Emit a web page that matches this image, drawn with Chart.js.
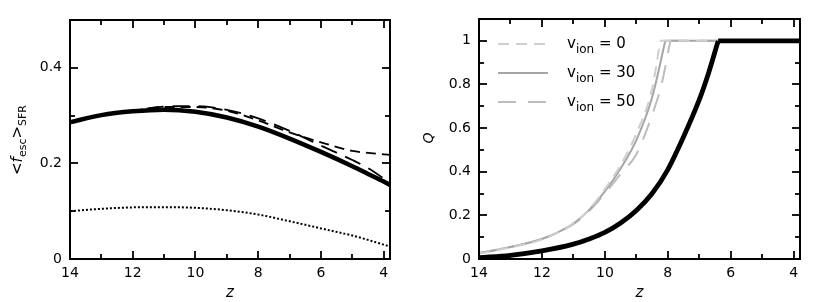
<!DOCTYPE html>
<html><head><meta charset="utf-8">
<script src="https://cdn.jsdelivr.net/npm/chart.js@4.4.0/dist/chart.umd.min.js"></script>
<style>
html,body{margin:0;padding:0;background:#fff;overflow:hidden}
#wrap{position:relative;width:817px;height:302px;background:#fff}
canvas{position:absolute;top:0}
</style></head><body>
<div id="wrap">
<canvas id="c1" width="409" height="302" style="left:0"></canvas>
<canvas id="c2" width="408" height="302" style="left:409px"></canvas>
</div>
<script>
// ---------- Left panel data: <f_esc>_SFR vs z ----------
const zLeft          = [14, 13, 12, 11, 10, 9, 8, 7, 6, 5, 4.5, 4, 3.8];
const fescSolid      = [0.286, 0.301, 0.309, 0.3125, 0.308, 0.296, 0.277, 0.252, 0.224, 0.194, 0.178, 0.162, 0.155];
const fescLongDash   = [0.286, 0.301, 0.310, 0.319, 0.320, 0.312, 0.294, 0.268, 0.237, 0.207, 0.190, 0.168, 0.158];
const fescShortDash  = [0.286, 0.301, 0.310, 0.318, 0.318, 0.310, 0.290, 0.265, 0.244, 0.226, 0.222, 0.219, 0.218];
const fescDotted     = [0.100, 0.105, 0.108, 0.1085, 0.107, 0.102, 0.093, 0.079, 0.064, 0.049, 0.040, 0.030, 0.026];

// ---------- Right panel data: Q vs z ----------
const zBlack = [14, 13, 12, 11, 10.5, 10, 9.5, 9, 8.5, 8, 7.5, 7, 6.7, 6.4, 3.8];
const qBlack = [0.006, 0.017, 0.037, 0.068, 0.092, 0.122, 0.165, 0.222, 0.30, 0.41, 0.56, 0.73, 0.855, 1.0, 1.0];
const zV0  = [14, 13, 12, 11, 10.5, 10, 9.5, 9, 8.5, 8.24, 3.8];
const qV0  = [0.025, 0.053, 0.090, 0.163, 0.228, 0.32, 0.43, 0.575, 0.78, 1.0, 1.0];
const zV30 = [14, 13, 12, 11.5, 11, 10.5, 10, 9.5, 9, 8.5, 8.08, 3.8];
const qV30 = [0.027, 0.055, 0.092, 0.122, 0.162, 0.225, 0.31, 0.415, 0.545, 0.74, 1.0, 1.0];
const zV50 = [14, 13, 12, 11, 10.5, 10, 9.5, 9, 8.5, 8.2, 7.92, 3.8];
const qV50 = [0.027, 0.055, 0.092, 0.160, 0.220, 0.300, 0.390, 0.48, 0.66, 0.80, 1.0, 1.0];
const legendLabels = ['0', '30', '50'];

// ---------- Ticks ----------
const xTicks = [14, 12, 10, 8, 6, 4];
const xMinorTicks = [13, 11, 9, 7, 5];
const leftYTicks = [0, 0.2, 0.4];
const leftYMinor = [0.1, 0.3];
const rightYTicks = [0, 0.2, 0.4, 0.6, 0.8, 1];
const rightYMinor = [0.1, 0.3, 0.5, 0.7, 0.9];

const FONT = "'DejaVu Sans', 'Liberation Sans', sans-serif";
Chart.defaults.font.family = FONT;
Chart.defaults.font.size = 14;
Chart.defaults.color = '#000';

function pts(xs, ys){ return xs.map((x,i)=>({x:x, y:ys[i]})); }
// split a Q curve at the point where it saturates (Q=1) so the corner stays sharp
function splitAtSaturation(xs, ys){
  const k = ys.findIndex(v=>v>=1);
  return [pts(xs.slice(0,k+1), ys.slice(0,k+1)), pts(xs.slice(k), ys.slice(k))];
}

function framePlugin(o){
  return {
    id:'frame',
    afterDraw(chart){
      const ctx = chart.ctx, a = chart.chartArea, xs = chart.scales.x, ys = chart.scales.y;
      ctx.save();
      ctx.strokeStyle = '#000';
      ctx.lineWidth = 2;
      ctx.strokeRect(a.left, a.top, a.right - a.left, a.bottom - a.top);
      ctx.lineWidth = 1.8;
      const seg = (x1,y1,x2,y2)=>{ ctx.beginPath(); ctx.moveTo(x1,y1); ctx.lineTo(x2,y2); ctx.stroke(); };
      const doX = (vals, L)=>vals.forEach(v=>{ const p = Math.round(xs.getPixelForValue(v)); seg(p,a.bottom,p,a.bottom-L); seg(p,a.top,p,a.top+L); });
      const doY = (vals, L)=>vals.forEach(v=>{ const p = Math.round(ys.getPixelForValue(v)); seg(a.left,p,a.left+L,p); seg(a.right,p,a.right-L,p); });
      doX(o.xMaj, 8); doX(o.xMin, 5);
      doY(o.yMaj, 8); doY(o.yMin, 5);
      ctx.fillStyle = '#000';
      ctx.font = 'italic 15px ' + FONT;
      ctx.textAlign = 'center';
      ctx.textBaseline = 'alphabetic';
      ctx.fillText('z', (a.left + a.right)/2, 297);
      if (o.yTitle) o.yTitle(ctx, a);
      if (o.legend) o.legend(ctx, a);
      ctx.restore();
    }
  };
}

function makeOptions(yMin, yMax, yTicks, padRight, padTop){
  return {
    responsive:false, animation:false,
    layout:{padding:{left:0, right:padRight, top:padTop, bottom:0}},
    plugins:{legend:{display:false}, tooltip:{enabled:false}},
    elements:{point:{radius:0}, line:{cubicInterpolationMode:'monotone', borderCapStyle:'butt'}},
    scales:{
      x:{type:'linear', reverse:true, min:3.8, max:14,
         grid:{display:false, drawTicks:false}, border:{display:false},
         afterBuildTicks(s){ s.ticks = xTicks.map(v=>({value:v})); },
         afterFit(s){ s.height = 43; },
         ticks:{padding:6, maxRotation:0, autoSkip:false, callback:(v)=>String(v), font:{size:14}}},
      y:{type:'linear', min:yMin, max:yMax,
         grid:{display:false, drawTicks:false}, border:{display:false},
         afterBuildTicks(s){ s.ticks = yTicks.map(v=>({value:v})); },
         afterFit(s){ s.width = 70; },
         ticks:{padding:8, autoSkip:false, callback:(v)=>String(v), font:{size:14}}}
    }
  };
}

// ---------- Left chart ----------
new Chart(document.getElementById('c1'), {
  type:'line',
  data:{datasets:[
    {data:pts(zLeft, fescSolid), borderColor:'#000', borderWidth:4.5},
    {data:pts(zLeft, fescLongDash), borderColor:'#000', borderWidth:1.8, borderDash:[17,9]},
    {data:pts(zLeft, fescShortDash), borderColor:'#000', borderWidth:1.8, borderDash:[10,6]},
    {data:pts(zLeft, fescDotted), borderColor:'#000', borderWidth:2, borderDash:[2,2]}
  ]},
  options:makeOptions(0, 0.5, leftYTicks, 19, 20),
  plugins:[framePlugin({
    xMaj:xTicks, xMin:xMinorTicks, yMaj:leftYTicks.concat([0.5]), yMin:leftYMinor,
    yTitle(ctx, a){
      ctx.save();
      ctx.translate(22, 140);
      ctx.rotate(-Math.PI/2);
      const parts = [
        {t:'<', f:'15px ', dy:0},
        {t:'f', f:'italic 15px ', dy:0},
        {t:'esc', f:'11px ', dy:4},
        {t:'>', f:'15px ', dy:0},
        {t:'SFR', f:'11px ', dy:4}
      ];
      let w = 0;
      parts.forEach(p=>{ ctx.font = p.f + FONT; p.w = ctx.measureText(p.t).width; w += p.w; });
      let x = -w/2;
      ctx.textAlign = 'left'; ctx.textBaseline = 'alphabetic'; ctx.fillStyle = '#000';
      parts.forEach(p=>{ ctx.font = p.f + FONT; ctx.fillText(p.t, x, p.dy); x += p.w; });
      ctx.restore();
    }
  })]
});

// ---------- Right chart ----------
const legendStyles = [
  {color:'#cfcfcf', dash:[11,7]},
  {color:'#a6a6a6', dash:[]},
  {color:'#bdbdbd', dash:[18,12]}
];
const blackParts = splitAtSaturation(zBlack, qBlack);
const v0Parts  = splitAtSaturation(zV0, qV0);
const v30Parts = splitAtSaturation(zV30, qV30);
const v50Parts = splitAtSaturation(zV50, qV50);
const rightSets = [];
blackParts.forEach(d=>rightSets.push({data:d, borderColor:'#000', borderWidth:4.8}));
[v0Parts, v30Parts, v50Parts].forEach((parts, i)=>parts.forEach(d=>rightSets.push({
  data:d, borderColor:legendStyles[i].color, borderWidth:2, borderDash:legendStyles[i].dash})));

new Chart(document.getElementById('c2'), {
  type:'line',
  data:{datasets:rightSets},
  options:makeOptions(0, 1.1, rightYTicks, 17, 19),
  plugins:[framePlugin({
    xMaj:xTicks, xMin:xMinorTicks, yMaj:rightYTicks, yMin:rightYMinor,
    yTitle(ctx, a){
      ctx.save();
      ctx.translate(24, 138);
      ctx.rotate(-Math.PI/2);
      ctx.font = 'italic 14px ' + FONT;
      ctx.textAlign = 'center'; ctx.textBaseline = 'alphabetic'; ctx.fillStyle = '#000';
      ctx.fillText('Q', 0, 0);
      ctx.restore();
    },
    legend(ctx, a){
      const rows = [44, 73, 102];
      legendLabels.forEach((lab, i)=>{
        const y = rows[i], st = legendStyles[i];
        ctx.save();
        ctx.strokeStyle = st.color; ctx.lineWidth = 2; ctx.setLineDash(st.dash);
        ctx.beginPath(); ctx.moveTo(89, y); ctx.lineTo(139, y); ctx.stroke();
        ctx.restore();
        ctx.fillStyle = '#000'; ctx.textAlign = 'left'; ctx.textBaseline = 'alphabetic';
        let x = 158;
        ctx.font = '15px ' + FONT; ctx.fillText('v', x, y + 4); x += ctx.measureText('v').width;
        ctx.font = '12px ' + FONT; ctx.fillText('ion', x, y + 9); x += ctx.measureText('ion').width;
        ctx.font = '15px ' + FONT; ctx.fillText(' = ' + lab, x, y + 4);
      });
    }
  })]
});
</script>
</body></html>
